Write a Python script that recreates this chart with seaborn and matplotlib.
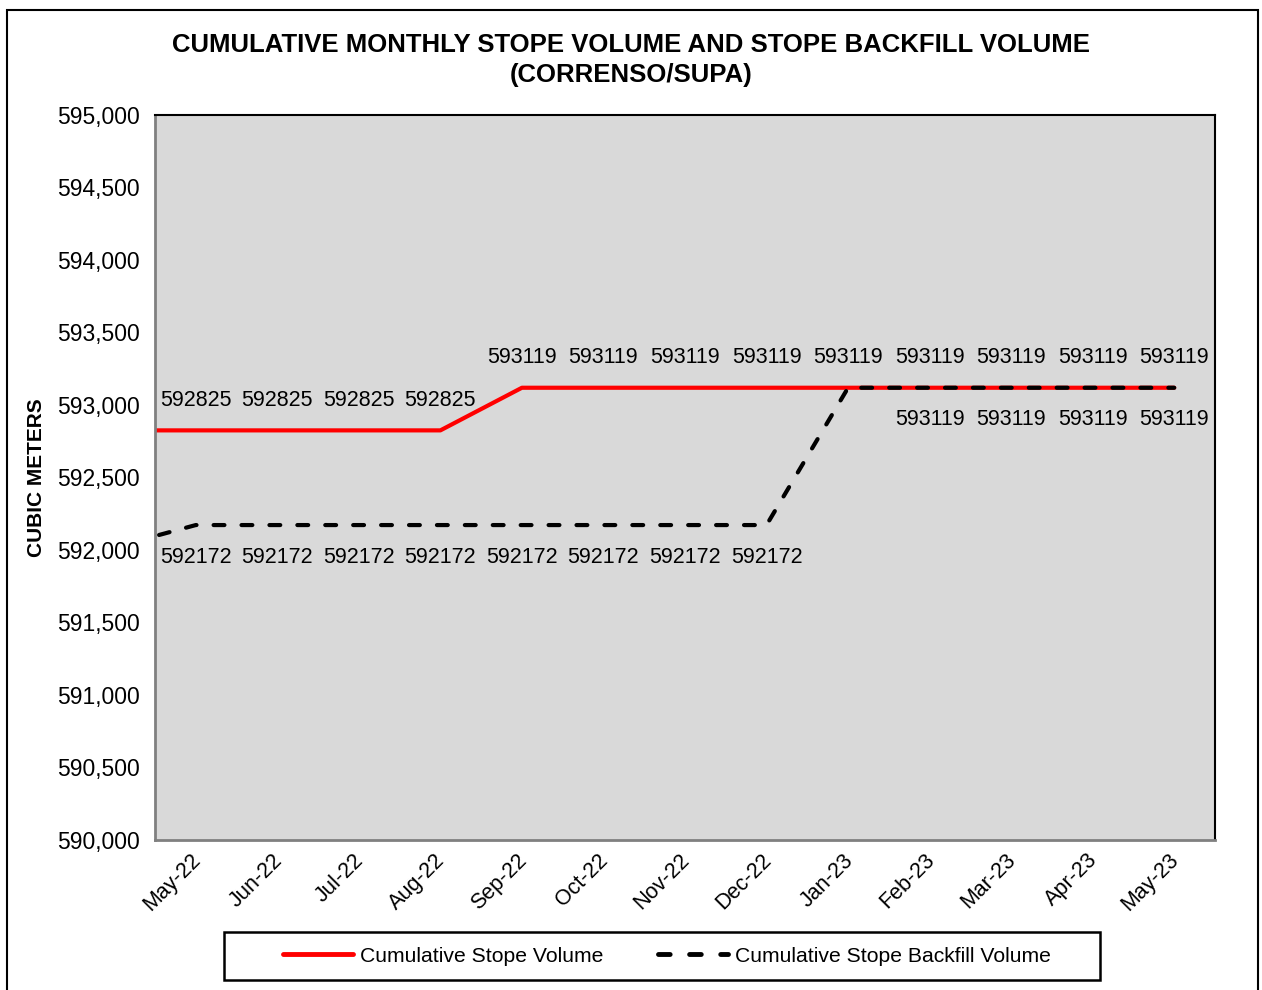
import matplotlib
matplotlib.use("Agg")
import matplotlib.pyplot as plt
import matplotlib.ticker as mticker
from matplotlib.patches import Rectangle
import numpy as np
import pandas as pd
import seaborn as sns

# month before the window is kept only so the lines run in from the left edge
MONTHS = ["Apr-22", "May-22", "Jun-22", "Jul-22", "Aug-22", "Sep-22", "Oct-22",
          "Nov-22", "Dec-22", "Jan-23", "Feb-23", "Mar-23", "Apr-23", "May-23"]
STOPE_VOLUME = [592825, 592825, 592825, 592825, 592825, 593119, 593119,
                593119, 593119, 593119, 593119, 593119, 593119, 593119]
BACKFILL_VOLUME = [592020, 592172, 592172, 592172, 592172, 592172, 592172,
                   592172, 592172, 593119, 593119, 593119, 593119, 593119]
# which points carry a value label (False = no label)
STOPE_LABELED = [False] + [True] * 13
BACKFILL_LABELED = [False] + [True] * 8 + [False] + [True] * 4

SERIES_STOPE = "Cumulative Stope Volume"
SERIES_BACKFILL = "Cumulative Stope Backfill Volume"
DASH = (2.6, 4.1)

sns.set_style("white")
plt.rcParams["font.family"] = ["Liberation Sans", "DejaVu Sans"]
plt.rcParams["text.color"] = "black"
plt.rcParams["axes.labelcolor"] = "black"
plt.rcParams["lines.dash_capstyle"] = "round"

pos = np.arange(len(MONTHS)) - 1
df = pd.concat([
    pd.DataFrame({"pos": pos, "value": STOPE_VOLUME, "series": SERIES_STOPE}),
    pd.DataFrame({"pos": pos, "value": BACKFILL_VOLUME, "series": SERIES_BACKFILL}),
])

fig = plt.figure(figsize=(12.62, 9.9), dpi=100)
ax = fig.add_axes([155 / 1262, 1 - 840 / 990, 1060 / 1262, 725 / 990])
ax.set_facecolor("#d9d9d9")

sns.lineplot(data=df, x="pos", y="value", hue="series", style="series",
             palette={SERIES_STOPE: "#ff0000", SERIES_BACKFILL: "#000000"},
             dashes={SERIES_STOPE: "", SERIES_BACKFILL: DASH},
             linewidth=3, legend=False, ax=ax, sort=False)
# shift the dash phase so a dash starts right at the left spine
ax.lines[1].set_linestyle((2.25, DASH))

for x, v, show in zip(pos, STOPE_VOLUME, STOPE_LABELED):
    if show:
        ax.annotate(f"{v}", (x, v), xytext=(0, 21.5), textcoords="offset points",
                    ha="center", va="center", fontsize=15.5)
for x, v, show in zip(pos, BACKFILL_VOLUME, BACKFILL_LABELED):
    if show:
        ax.annotate(f"{v}", (x, v), xytext=(0, -23), textcoords="offset points",
                    ha="center", va="center", fontsize=15.5)

ax.set_xlim(-0.5, len(MONTHS) - 1.5)
ax.set_ylim(590000, 595000)
ax.yaxis.set_major_locator(mticker.MultipleLocator(500))
ax.yaxis.set_major_formatter(mticker.StrMethodFormatter("{x:,.0f}"))

ax.set_xticks(np.arange(-0.5, len(MONTHS) - 1, 1.0))
ax.set_xticklabels([])
# label anchors sit a little left of each category centre, as in the source
ax.set_xticks(np.arange(0, len(MONTHS) - 1) - 0.07, minor=True)
ax.set_xticklabels(MONTHS[1:], minor=True, rotation=45, ha="right",
                   rotation_mode="anchor", fontsize=15.5)
ax.tick_params(axis="x", which="minor", length=0, pad=7, labelcolor="black")
ax.tick_params(axis="x", which="major", direction="out", length=5, width=1.5,
               color="#808080")
ax.tick_params(axis="y", direction="out", length=5, width=1.5, color="#808080",
               labelsize=16.5, pad=6, labelcolor="black")

ax.spines["left"].set_color("#808080")
ax.spines["bottom"].set_color("#808080")
for side in ["left", "bottom"]:
    ax.spines[side].set_linewidth(2)
for side in ["top", "right"]:
    ax.spines[side].set_color("black")
    ax.spines[side].set_linewidth(1.5)

ax.set_xlabel("")
ax.set_ylabel("CUBIC METERS", fontsize=15, fontweight="bold", labelpad=8)

fig.text(0.5, 1 - 45 / 990, "CUMULATIVE MONTHLY STOPE VOLUME AND STOPE BACKFILL VOLUME",
         ha="center", va="center", fontsize=18.5, fontweight="bold")
fig.text(0.5, 1 - 75 / 990, "(CORRENSO/SUPA)",
         ha="center", va="center", fontsize=18.5, fontweight="bold")

handles = [
    plt.Line2D([], [], color="#ff0000", linewidth=3.5),
    plt.Line2D([], [], color="black", linewidth=3.5, dashes=(2.4, 4.0),
               dash_capstyle="round"),
]
fig.legend(handles, [SERIES_STOPE, SERIES_BACKFILL], ncol=2,
           loc="center", bbox_to_anchor=(667 / 1262, 1 - 956 / 990),
           frameon=False, fontsize=15.2, handlelength=3.3, handletextpad=0.35,
           columnspacing=2.6)
fig.patches.append(Rectangle((224 / 1262, 1 - 980 / 990), 876 / 1262, 48 / 990,
                             transform=fig.transFigure, fill=False,
                             edgecolor="black", linewidth=1.8))

fig.patches.append(Rectangle((7 / 1262, -0.01), 1251 / 1262, 1 - 10 / 990 + 0.01,
                             transform=fig.transFigure, fill=False,
                             edgecolor="black", linewidth=1.5))

fig.savefig("out.png", dpi=100)
